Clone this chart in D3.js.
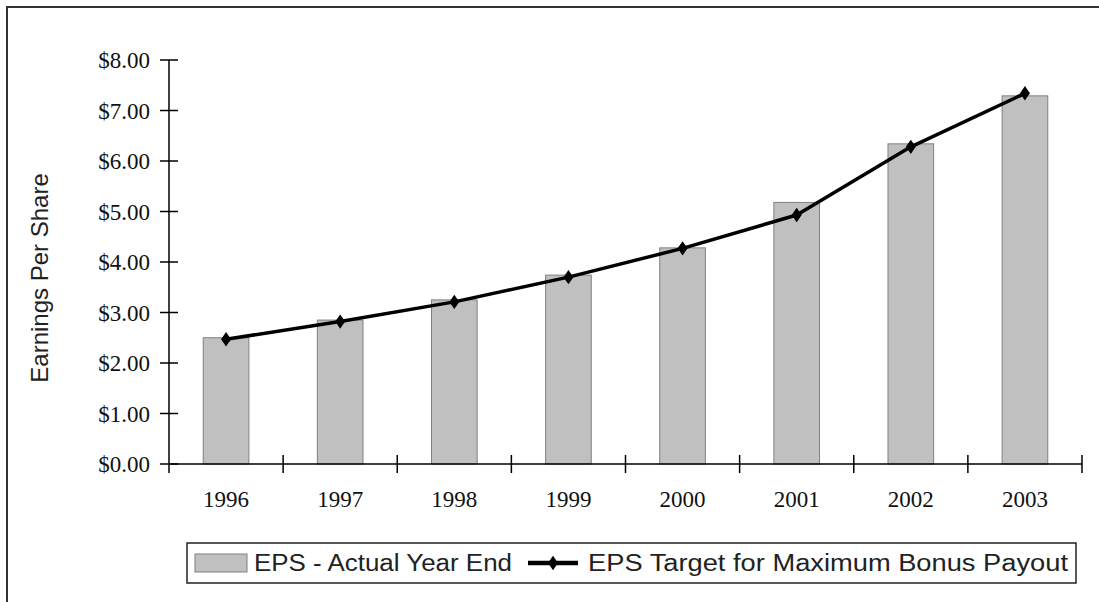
<!DOCTYPE html>
<html>
<head>
<meta charset="utf-8">
<script src="https://cdn.jsdelivr.net/npm/d3@7"></script>
<style>
  body { margin: 0; background: #fff; }
  svg { display: block; }
</style>
</head>
<body>
<svg id="chart"></svg>
<script>
const width = 1099;
const height = 602;

// Data
const years = ["1996", "1997", "1998", "1999", "2000", "2001", "2002", "2003"];
const epsActual = [2.50, 2.85, 3.25, 3.74, 4.28, 5.18, 6.34, 7.29];
const epsTarget = [2.47, 2.82, 3.21, 3.70, 4.27, 4.93, 6.28, 7.34];
const yTicks = [0, 1, 2, 3, 4, 5, 6, 7, 8];

const svg = d3.select("#chart")
    .attr("width", width)
    .attr("height", height);

// Outer frame (only top and left edges are visible)
svg.append("rect")
    .attr("x", 7).attr("y", 7)
    .attr("width", 1200).attr("height", 700)
    .attr("fill", "none")
    .attr("stroke", "#333")
    .attr("stroke-width", 2);

const x = d3.scaleBand()
    .domain(years)
    .range([169, 1082]);

const y = d3.scaleLinear()
    .domain([0, 8])
    .range([464, 60]);

const serif = "'Liberation Serif', 'Times New Roman', serif";
const sans = "'Liberation Sans', Arial, sans-serif";

// Bars
const barW = x.bandwidth() * 0.4;
svg.append("g")
    .selectAll("rect")
    .data(epsActual)
    .enter()
    .append("rect")
    .attr("x", (d, i) => x(years[i]) + x.bandwidth() / 2 - barW / 2)
    .attr("y", d => y(d))
    .attr("width", barW)
    .attr("height", d => y(0) - y(d))
    .attr("fill", "#c0c0c0")
    .attr("stroke", "#808080")
    .attr("stroke-width", 1);

// Y axis
const yAxis = svg.append("g");
yAxis.append("line")
    .attr("x1", 169).attr("x2", 169)
    .attr("y1", y(8)).attr("y2", y(0) + 9)
    .attr("stroke", "#000").attr("stroke-width", 1.5);
yAxis.selectAll("line.tick")
    .data(yTicks)
    .enter()
    .append("line")
    .attr("class", "tick")
    .attr("x1", 160).attr("x2", 178)
    .attr("y1", d => y(d)).attr("y2", d => y(d))
    .attr("stroke", "#000").attr("stroke-width", 1.5);
yAxis.selectAll("text")
    .data(yTicks)
    .enter()
    .append("text")
    .attr("x", 150)
    .attr("y", d => y(d))
    .attr("dy", "0.35em")
    .attr("text-anchor", "end")
    .style("font-family", serif)
    .style("font-size", "23px")
    .attr("fill", "#111")
    .text(d => "$" + d.toFixed(2));

// X axis
const xAxis = svg.append("g");
xAxis.append("line")
    .attr("x1", 169).attr("x2", 1082)
    .attr("y1", y(0)).attr("y2", y(0))
    .attr("stroke", "#000").attr("stroke-width", 1.5);
const xBounds = years.map(d => x(d) + x.bandwidth());
xAxis.selectAll("line.tick")
    .data(xBounds)
    .enter()
    .append("line")
    .attr("class", "tick")
    .attr("x1", d => d).attr("x2", d => d)
    .attr("y1", y(0) - 9).attr("y2", y(0) + 9)
    .attr("stroke", "#000").attr("stroke-width", 1.5);
xAxis.selectAll("text")
    .data(years)
    .enter()
    .append("text")
    .attr("x", d => x(d) + x.bandwidth() / 2)
    .attr("y", 507)
    .attr("text-anchor", "middle")
    .style("font-family", serif)
    .style("font-size", "23px")
    .attr("fill", "#111")
    .text(d => d);

// Y axis title
svg.append("text")
    .attr("transform", "translate(48,278) rotate(-90)")
    .attr("text-anchor", "middle")
    .style("font-family", sans)
    .style("font-size", "24px")
    .attr("fill", "#222")
    .text("Earnings Per Share");

// Target line
const line = d3.line()
    .x((d, i) => x(years[i]) + x.bandwidth() / 2)
    .y(d => y(d));
svg.append("path")
    .datum(epsTarget)
    .attr("d", line)
    .attr("fill", "none")
    .attr("stroke", "#000")
    .attr("stroke-width", 3.5)
    .attr("stroke-linejoin", "round");

const diamond = d3.symbol().type(d3.symbolDiamond).size(60);
svg.append("g")
    .selectAll("path")
    .data(epsTarget)
    .enter()
    .append("path")
    .attr("d", diamond)
    .attr("transform", (d, i) => `translate(${x(years[i]) + x.bandwidth() / 2},${y(d)}) scale(1.2,1)`)
    .attr("fill", "#000");

// Legend
const legend = svg.append("g");
legend.append("rect")
    .attr("x", 187).attr("y", 543)
    .attr("width", 889).attr("height", 40)
    .attr("fill", "#fff")
    .attr("stroke", "#222")
    .attr("stroke-width", 1.5);
legend.append("rect")
    .attr("x", 195).attr("y", 554)
    .attr("width", 52).attr("height", 18)
    .attr("fill", "#c0c0c0")
    .attr("stroke", "#808080")
    .attr("stroke-width", 1);
legend.append("text")
    .attr("x", 254).attr("y", 571)
    .attr("textLength", 258)
    .attr("lengthAdjust", "spacingAndGlyphs")
    .style("font-family", sans)
    .style("font-size", "23px")
    .attr("fill", "#222")
    .text("EPS - Actual Year End");
legend.append("line")
    .attr("x1", 528).attr("x2", 578)
    .attr("y1", 563).attr("y2", 563)
    .attr("stroke", "#000").attr("stroke-width", 4.5);
legend.append("path")
    .attr("d", diamond)
    .attr("transform", "translate(553,563) scale(1.2,1)")
    .attr("fill", "#000");
legend.append("text")
    .attr("x", 588).attr("y", 571)
    .attr("textLength", 480)
    .attr("lengthAdjust", "spacingAndGlyphs")
    .style("font-family", sans)
    .style("font-size", "23px")
    .attr("fill", "#222")
    .text("EPS Target for Maximum Bonus Payout");
</script>
</body>
</html>
